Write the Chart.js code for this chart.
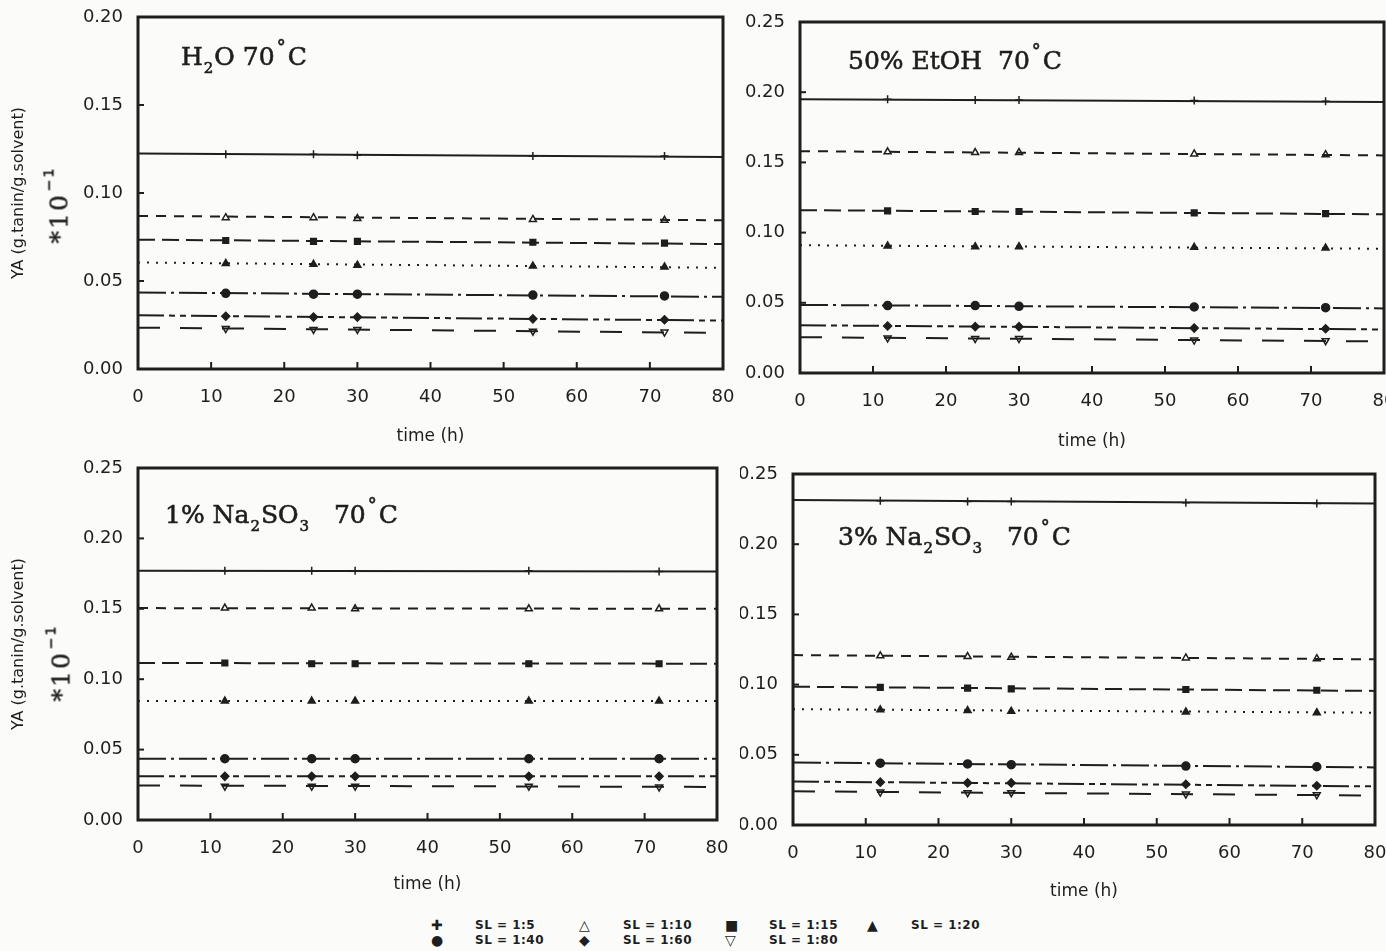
<!DOCTYPE html>
<html>
<head>
<meta charset="utf-8">
<script src="https://cdn.jsdelivr.net/npm/chart.js@4"></script>
<style>
  html, body { margin: 0; padding: 0; }
  body { width: 1386px; height: 951px; overflow: hidden; position: relative; background: #fbfbf9; color: #1e1e1e; }
  canvas { position: absolute; }
  .lab { position: absolute; font-family: "DejaVu Serif", serif; font-size: 25px; line-height: 1; white-space: nowrap; -webkit-text-stroke: 0.6px #1e1e1e; }
  .lab sub { font-size: 15px; vertical-align: -8px; margin: 0 1px; }
  .lab .deg { font-size: 18px; vertical-align: 12px; margin: 0 2px; }
  .mult { position: absolute; font-family: "DejaVu Serif", serif; font-size: 25px; letter-spacing: 2px; transform: rotate(-90deg); transform-origin: center; white-space: nowrap; line-height: 1; -webkit-text-stroke: 0.5px #1e1e1e; }
  .mult sup { font-family: "DejaVu Sans", sans-serif; font-size: 14px; vertical-align: 14px; margin-left: 2px; }
  .leg { position: absolute; font-family: "DejaVu Sans", sans-serif; font-size: 12px; font-weight: bold; letter-spacing: 0.5px; white-space: nowrap; line-height: 1; }
  .sym { position: absolute; font-family: "DejaVu Sans", sans-serif; font-size: 14px; line-height: 1; }
</style>
</head>
<body>
<canvas id="c1" width="735" height="450" style="left:0;top:0"></canvas>
<canvas id="c2" width="650" height="455" style="left:740px;top:0"></canvas>
<canvas id="c3" width="735" height="443" style="left:0;top:455px"></canvas>
<canvas id="c4" width="650" height="445" style="left:740px;top:460px"></canvas>

<div class="lab" style="left:181px;top:38px">H<sub>2</sub>O 70<span class="deg">°</span>C</div>
<div class="lab" style="left:848px;top:42px">50% EtOH&nbsp;&nbsp;70<span class="deg">°</span>C</div>
<div class="lab" style="left:165px;top:496px">1% Na<sub>2</sub>SO<sub>3</sub>&nbsp;&nbsp;&nbsp;70<span class="deg">°</span>C</div>
<div class="lab" style="left:838px;top:518px">3% Na<sub>2</sub>SO<sub>3</sub>&nbsp;&nbsp;&nbsp;70<span class="deg">°</span>C</div>

<div class="mult" style="left:18px;top:190px">*10<sup>−1</sup></div>
<div class="mult" style="left:20px;top:648px">*10<sup>−1</sup></div>

<div id="legend"></div>

<script>
// time of the measurements and of the fitted line ends (h)
const markTimes = [12, 24, 30, 54, 72];
const lineTimes = [0, 80];
const seriesLabels = ['SL = 1:5', 'SL = 1:10', 'SL = 1:15', 'SL = 1:20', 'SL = 1:40', 'SL = 1:60', 'SL = 1:80'];
const xTicks = [0, 10, 20, 30, 40, 50, 60, 70, 80];

// H2O 70 C
const h2oLine = [[0.1225, 0.1205], [0.087, 0.0845], [0.0735, 0.071], [0.0605, 0.0575], [0.0435, 0.041], [0.0305, 0.0275], [0.0235, 0.0205]];
const h2oMarks = [
  [0.122, 0.122, 0.1215, 0.121, 0.121],
  [0.086, 0.086, 0.0855, 0.085, 0.0845],
  [0.073, 0.0725, 0.0725, 0.072, 0.0715],
  [0.060, 0.0595, 0.059, 0.0585, 0.058],
  [0.043, 0.0425, 0.0425, 0.042, 0.0415],
  [0.030, 0.0295, 0.0295, 0.0285, 0.028],
  [0.023, 0.0225, 0.0225, 0.0215, 0.021]
];

// 50% EtOH 70 C
const etohLine = [[0.195, 0.193], [0.158, 0.155], [0.116, 0.113], [0.091, 0.0885], [0.0485, 0.046], [0.034, 0.031], [0.0255, 0.0225]];
const etohMarks = [
  [0.195, 0.1945, 0.1945, 0.194, 0.1935],
  [0.1575, 0.157, 0.157, 0.156, 0.1555],
  [0.1155, 0.115, 0.115, 0.114, 0.1135],
  [0.0905, 0.090, 0.090, 0.0895, 0.089],
  [0.048, 0.048, 0.0475, 0.047, 0.0465],
  [0.0335, 0.033, 0.033, 0.032, 0.0315],
  [0.025, 0.0245, 0.0245, 0.0235, 0.023]
];

// 1% Na2SO3 70 C
const na1Line = [[0.177, 0.1765], [0.1505, 0.150], [0.1115, 0.111], [0.0845, 0.0845], [0.0435, 0.0435], [0.031, 0.031], [0.0245, 0.0235]];
const na1Marks = [
  [0.177, 0.177, 0.177, 0.177, 0.1765],
  [0.1505, 0.1505, 0.150, 0.150, 0.150],
  [0.1115, 0.111, 0.111, 0.111, 0.111],
  [0.0845, 0.0845, 0.0845, 0.0845, 0.0845],
  [0.0435, 0.0435, 0.0435, 0.0435, 0.0435],
  [0.031, 0.031, 0.031, 0.031, 0.031],
  [0.024, 0.024, 0.024, 0.024, 0.0235]
];

// 3% Na2SO3 70 C
const na3Line = [[0.2315, 0.229], [0.121, 0.118], [0.0985, 0.0955], [0.0825, 0.080], [0.0445, 0.041], [0.031, 0.0275], [0.024, 0.021]];
const na3Marks = [
  [0.231, 0.2305, 0.2305, 0.2295, 0.229],
  [0.1205, 0.120, 0.1195, 0.119, 0.1185],
  [0.098, 0.0975, 0.097, 0.0965, 0.096],
  [0.082, 0.0815, 0.081, 0.0805, 0.080],
  [0.044, 0.0435, 0.043, 0.042, 0.0415],
  [0.0305, 0.030, 0.030, 0.029, 0.028],
  [0.0235, 0.023, 0.023, 0.022, 0.0215]
];

const ink = '#1e1e1e';
const paper = '#fbfbf9';
const dashes = [[], [10, 8], [17, 7], [2, 7], [28, 5, 3, 5], [26, 5, 6, 5, 6, 5], [22, 20]];
const markers = [
  { style: 'cross', r: 4, fill: ink },
  { style: 'triangle', r: 4, fill: paper },
  { style: 'rect', r: 4, fill: ink },
  { style: 'triangle', r: 4, fill: ink },
  { style: 'circle', r: 4, fill: ink },
  { style: 'rectRot', r: 4, fill: ink },
  { style: 'triangle', r: 4, fill: paper, rot: 180 }
];

function buildDatasets(lineEnds, marks) {
  const sets = [];
  seriesLabels.forEach((label, i) => {
    sets.push({
      label: label,
      data: lineTimes.map((t, k) => ({ x: t, y: lineEnds[i][k] })),
      showLine: true,
      borderColor: ink,
      borderWidth: 2,
      borderDash: dashes[i],
      pointRadius: 0
    });
    sets.push({
      label: label,
      data: markTimes.map((t, k) => ({ x: t, y: marks[i][k] })),
      showLine: false,
      pointStyle: markers[i].style,
      rotation: markers[i].rot || 0,
      pointRadius: markers[i].r,
      backgroundColor: markers[i].fill,
      borderColor: ink,
      borderWidth: 1.5
    });
  });
  return sets;
}

// thick box plus small inward tick marks
const framePlugin = {
  id: 'frame',
  afterDraw(chart) {
    const { ctx, chartArea: a, scales: { x, y } } = chart;
    ctx.save();
    ctx.strokeStyle = ink;
    ctx.lineWidth = 3;
    ctx.strokeRect(a.left, a.top, a.right - a.left, a.bottom - a.top);
    ctx.lineWidth = 2;
    x.ticks.forEach(t => {
      const px = x.getPixelForValue(t.value);
      ctx.beginPath(); ctx.moveTo(px, a.bottom); ctx.lineTo(px, a.bottom - 7); ctx.stroke();
    });
    y.ticks.forEach(t => {
      const py = y.getPixelForValue(t.value);
      ctx.beginPath(); ctx.moveTo(a.left, py); ctx.lineTo(a.left + 6, py); ctx.stroke();
    });
    ctx.restore();
  }
};

Chart.defaults.font.family = '"DejaVu Sans", sans-serif';
Chart.defaults.color = ink;

const panels = [
  { id: 'c1', line: h2oLine, marks: h2oMarks, yMax: 0.20, yWidth: 138, xHeight: 81, pad: { top: 17, right: 12 }, yTitle: true },
  { id: 'c2', line: etohLine, marks: etohMarks, yMax: 0.25, yWidth: 60, xHeight: 82, pad: { top: 22, right: 6 }, yTitle: false },
  { id: 'c3', line: na1Line, marks: na1Marks, yMax: 0.25, yWidth: 138, xHeight: 78, pad: { top: 13, right: 18 }, yTitle: true },
  { id: 'c4', line: na3Line, marks: na3Marks, yMax: 0.25, yWidth: 53, xHeight: 80, pad: { top: 14, right: 15 }, yTitle: false }
];

panels.forEach(p => {
  new Chart(document.getElementById(p.id).getContext('2d'), {
    type: 'scatter',
    data: { datasets: buildDatasets(p.line, p.marks) },
    options: {
      responsive: false,
      animation: false,
      layout: { padding: { top: p.pad.top, right: p.pad.right, left: 0, bottom: 0 } },
      plugins: { legend: { display: false }, tooltip: { enabled: false } },
      scales: {
        x: {
          type: 'linear',
          min: 0,
          max: 80,
          afterBuildTicks: s => { s.ticks = xTicks.map(v => ({ value: v })); },
          afterFit: s => { s.height = p.xHeight; s.paddingLeft = 0; s.paddingRight = 0; },
          grid: { display: false },
          border: { display: false },
          ticks: { autoSkip: false, maxRotation: 0, padding: 10, font: { size: 18 } },
          title: { display: true, text: 'time (h)', font: { size: 17 }, padding: { top: 4, bottom: 3 } }
        },
        y: {
          min: 0,
          max: p.yMax,
          afterFit: s => { s.width = p.yWidth; s.paddingTop = 0; s.paddingBottom = 0; },
          grid: { display: false },
          border: { display: false },
          ticks: { stepSize: 0.05, padding: 7, font: { size: 18 }, callback: v => v.toFixed(2) },
          title: { display: p.yTitle, text: 'YA (g.tanin/g.solvent)', font: { size: 16 }, padding: { top: 9, bottom: 4 } }
        }
      }
    },
    plugins: [framePlugin]
  });
});

// legend below the panels
const legendItems = [
  { sym: '✚', text: 'SL = 1:5', x: 431, y: 918 },
  { sym: '△', text: 'SL = 1:10', x: 579, y: 918 },
  { sym: '■', text: 'SL = 1:15', x: 725, y: 918 },
  { sym: '▲', text: 'SL = 1:20', x: 867, y: 918 },
  { sym: '●', text: 'SL = 1:40', x: 431, y: 933 },
  { sym: '◆', text: 'SL = 1:60', x: 579, y: 933 },
  { sym: '▽', text: 'SL = 1:80', x: 725, y: 933 }
];
const legend = document.getElementById('legend');
legendItems.forEach(it => {
  const s = document.createElement('div');
  s.className = 'sym';
  s.style.left = it.x + 'px';
  s.style.top = it.y + 'px';
  s.textContent = it.sym;
  legend.appendChild(s);
  const t = document.createElement('div');
  t.className = 'leg';
  t.style.left = (it.x + 44) + 'px';
  t.style.top = (it.y + 1) + 'px';
  t.textContent = it.text;
  legend.appendChild(t);
});
</script>
</body>
</html>
